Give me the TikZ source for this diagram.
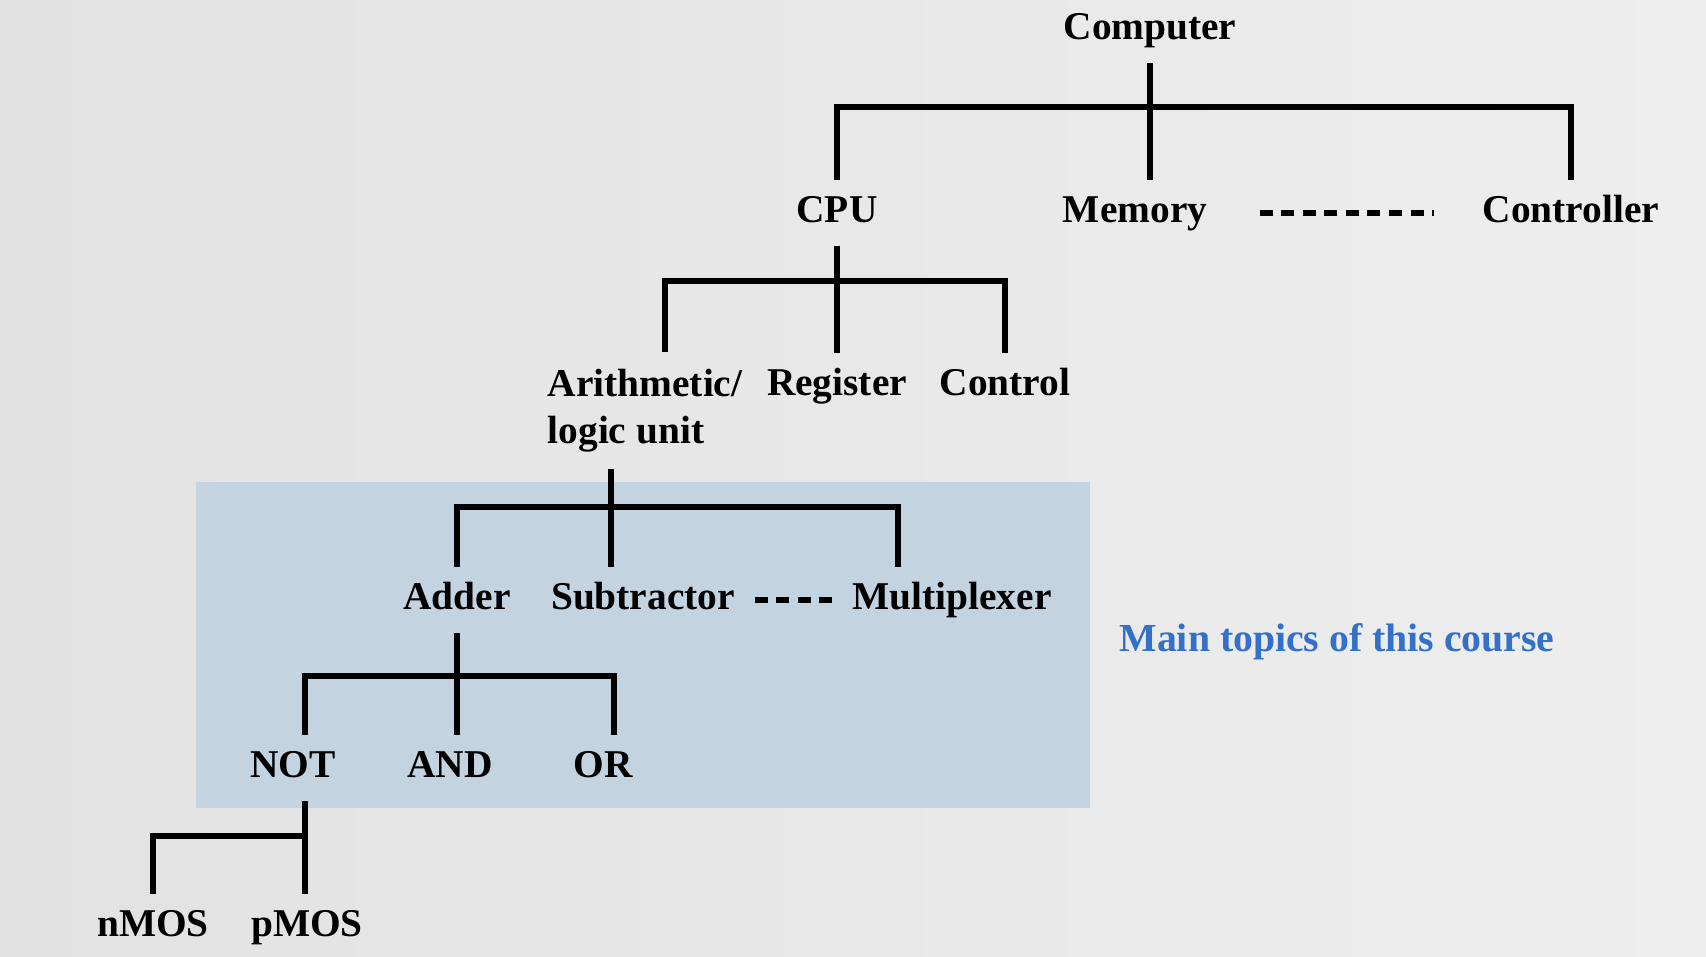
\documentclass[tikz,border=0pt]{standalone}
\usepackage{fontspec}
\setmainfont{Liberation Serif}
\usetikzlibrary{positioning}
\definecolor{bggray}{RGB}{226,226,226}
\definecolor{bglight}{RGB}{238,238,238}
\definecolor{topicblue}{RGB}{196,211,224}
\definecolor{textblue}{RGB}{52,112,200}

\tikzset{
  lbl/.style={font=\fontsize{11.2}{13.6}\selectfont\bfseries, text height=0.25cm, text depth=0.07cm, inner ysep=0.16cm, inner xsep=0pt},
  lblm/.style={font=\fontsize{11.2}{13.6}\selectfont\bfseries, align=left, inner ysep=0.16cm, inner xsep=0pt},
  tree/.style={line width=1.7pt},
  dots/.style={line width=1.7pt, dash pattern=on 0.13cm off 0.085cm},
}

\begin{document}
\begin{tikzpicture}[x=0.01cm, y=-0.01cm]
    % nền xám và vùng xanh
    \shade[left color=bggray, right color=bglight] (0,0) rectangle (1706,956);
    \useasboundingbox (0,0) rectangle (1706,956);
    \fill[topicblue] (196,482) rectangle (1090,808);

    % Computer
    \node[lbl] (computer) at (1150,30) {Computer};
    \node[lbl] (cpu) at (837,213) {CPU};
    \node[lbl] (memory) at (1135,213) {Memory};
    \node[lbl] (controller) at (1571,213) {Controller};
    \coordinate (bar1) at (0,107);
    \draw[tree] (computer.south) -- (computer.south |- memory.north);
    \draw[tree] (cpu.north) |- (bar1 -| controller.north) -- (controller.north);
    \draw[dots] ([xshift=0.52cm]memory.east) -- ([xshift=-0.48cm]controller.west);

    % CPU
    \node[lblm, anchor=north west] (alu) at (547,352) {Arithmetic/\\logic unit};
    \node[lbl] (register) at (837,386) {Register};
    \node[lbl] (control) at (1005,386) {Control};
    \coordinate (bar2) at (0,281);
    \coordinate (aludrop) at ([xshift=0.2cm]alu.north);
    \draw[tree] (cpu.south) -- (cpu.south |- register.north);
    \draw[tree] (aludrop) |- (bar2 -| control.north) -- (control.north);

    % Arithmetic/logic unit
    \node[lbl] (adder) at (457,600) {Adder};
    \node[lbl] (subtractor) at (643,600) {Subtractor};
    \node[lbl] (multiplexer) at (952,600) {Multiplexer};
    \coordinate (bar3) at (0,507);
    \coordinate (alustem) at ([xshift=-0.34cm]alu.south);
    \coordinate (muxdrop) at ([xshift=-0.54cm]multiplexer.north);
    \draw[tree] (alustem) -- (alustem |- subtractor.north);
    \draw[tree] (adder.north) |- (bar3 -| muxdrop) -- (muxdrop);
    \draw[dots] ([xshift=0.19cm]subtractor.east) -- ([xshift=-0.19cm]multiplexer.west);

    % Adder
    \node[lbl] (gnot) at (293,768) {NOT};
    \node[lbl] (gand) at (450,768) {AND};
    \node[lbl] (gor) at (603,768) {OR};
    \coordinate (bar4) at (0,676);
    \coordinate (nottop) at ([xshift=0.12cm]gnot.north);
    \coordinate (notbot) at ([xshift=0.12cm]gnot.south);
    \coordinate (ortop) at ([xshift=0.11cm]gor.north);
    \draw[tree] (adder.south) -- (adder.south |- gand.north);
    \draw[tree] (nottop) |- (bar4 -| ortop) -- (ortop);

    % NOT
    \node[lbl] (nmos) at (153,927) {nMOS};
    \node[lbl] (pmos) at (307,927) {pMOS};
    \coordinate (bar5) at (0,836);
    \draw[tree] (notbot) -- (notbot |- pmos.north);
    \draw[tree] (nmos.north) |- (bar5 -| notbot);

    % chú thích
    \node[font=\fontsize{11.3}{13.6}\selectfont\bfseries, text=textblue] (topics) at (1337,642) {Main topics of this course};
\end{tikzpicture}
\end{document}
